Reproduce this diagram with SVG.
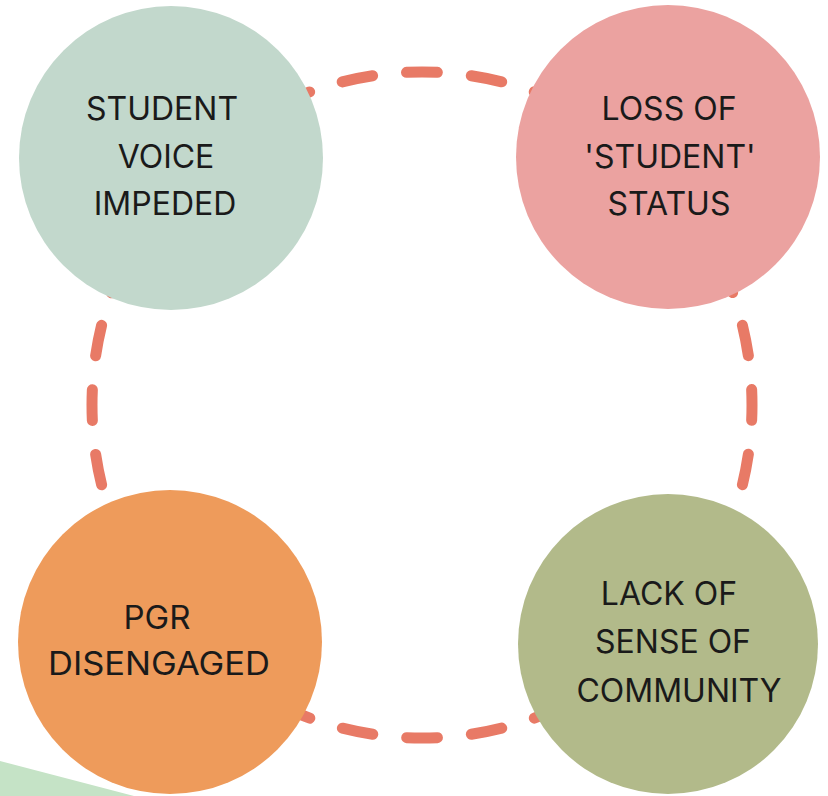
<svg xmlns="http://www.w3.org/2000/svg" width="828" height="796" viewBox="0 0 828 796">
  <style>
    .lbl { font-family: Inter, "Liberation Sans", sans-serif; font-size: 32px; fill: #1a1a1a; text-anchor: middle; }
    .loop { fill: none; stroke: #E87A66; stroke-width: 11; stroke-linecap: round; stroke-dasharray: 31 34.09; stroke-dashoffset: 15.5; }
  </style>
  <rect width="828" height="796" fill="#ffffff"/>
  <polygon points="0,761 134,796 0,796" fill="#C5E3C6"/>
  <g id="connectors">
    <path class="loop" pathLength="2083" d="M422,72 A330,333 0 0 1 752,405 A330,333 0 0 1 422,738 A330,333 0 0 1 92,405 A330,333 0 0 1 422,72 Z"/>
  </g>
  <g id="student-voice">
    <circle cx="171" cy="158" r="152" fill="#C2D8CC"/>
    <text class="lbl" x="162" y="120">STUDENT</text>
    <text class="lbl" x="166" y="168">VOICE</text>
    <text class="lbl" x="165" y="215">IMPEDED</text>
  </g>
  <g id="loss-of-status">
    <circle cx="668" cy="157" r="152" fill="#EBA2A0"/>
    <text class="lbl" x="669" y="120">LOSS OF</text>
    <text class="lbl" x="670" y="168">'STUDENT'</text>
    <text class="lbl" x="669" y="215">STATUS</text>
  </g>
  <g id="pgr-disengaged">
    <circle cx="170" cy="642" r="152" fill="#EE9B5B"/>
    <text class="lbl" x="157" y="629" textLength="67" lengthAdjust="spacingAndGlyphs">PGR</text>
    <text class="lbl" x="159" y="675" textLength="222" lengthAdjust="spacingAndGlyphs">DISENGAGED</text>
  </g>
  <g id="lack-of-community">
    <circle cx="668" cy="644" r="150" fill="#B2BA8A"/>
    <text class="lbl" x="669" y="605">LACK OF</text>
    <text class="lbl" x="673" y="653">SENSE OF</text>
    <text class="lbl" x="679" y="702">COMMUNITY</text>
  </g>
</svg>
